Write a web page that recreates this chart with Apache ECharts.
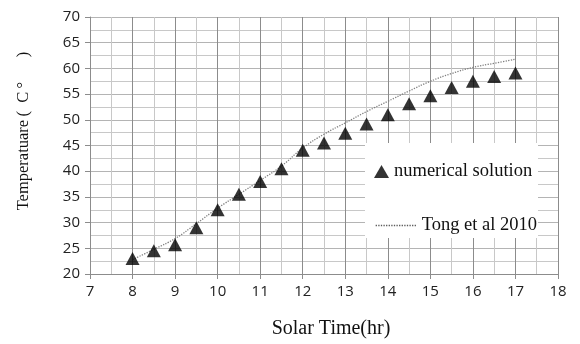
<!DOCTYPE html>
<html>
<head>
<meta charset="utf-8">
<script src="https://cdn.jsdelivr.net/npm/echarts@6/dist/echarts.min.js"></script>
<style>
html,body{margin:0;padding:0;background:#fff;}
#c{width:580px;height:344px;}
</style>
</head>
<body>
<div id="c"></div>
<script>
var solarTime = [8, 8.5, 9, 9.5, 10, 10.5, 11, 11.5, 12, 12.5, 13, 13.5, 14, 14.5, 15, 15.5, 16, 16.5, 17];
var numericalSolution = [23, 24.5, 25.7, 29, 32.5, 35.5, 38, 40.5, 44.1, 45.5, 47.4, 49.2, 51, 53.1, 54.7, 56.3, 57.5, 58.4, 59.1];
var tong2010 = [22.8, 24.8, 26.9, 29.8, 32.8, 35.5, 38.2, 41, 44.5, 47.2, 49.4, 51.6, 53.6, 55.6, 57.5, 59, 60.2, 61, 61.8];
var seriesNames = ['numerical solution', 'Tong et al 2010'];
var xTitle = 'Solar Time(hr)';
var yTitle = 'Temperatuare\u2009(\u2002C\u2009\u00B0\u2003\u2002)';

function pairs(xs, ys) { return xs.map(function (x, i) { return [x, ys[i]]; }); }

var chart = echarts.init(document.getElementById('c'), null, { renderer: 'canvas' });
chart.setOption({
  animation: false,
  backgroundColor: '#fff',
  grid: { left: 90, right: 22, top: 17, bottom: 70, containLabel: false },
  xAxis: {
    type: 'value', min: 7, max: 18, interval: 1,
    name: xTitle, nameLocation: 'middle', nameGap: 45,
    nameTextStyle: { fontFamily: 'Liberation Serif', fontSize: 20, color: '#111', padding: [0, 0, 0, 14] },
    axisLine: { show: true, lineStyle: { color: '#8c8c8c', width: 1 } },
    axisTick: { show: true, length: 5, lineStyle: { color: '#8c8c8c' } },
    axisLabel: { fontFamily: 'Open Sans', fontSize: 15, color: '#222', margin: 10 },
    splitLine: { show: true, lineStyle: { color: '#8c8c8c', width: 1 } },
    minorTick: { show: false, splitNumber: 2 },
    minorSplitLine: { show: true, lineStyle: { color: '#c8c8c8', width: 1 } }
  },
  yAxis: {
    type: 'value', min: 20, max: 70, interval: 5,
    name: yTitle, nameLocation: 'middle', nameGap: 58, nameRotate: 90,
    nameTextStyle: { fontFamily: 'Liberation Serif', fontSize: 16.5, color: '#111', padding: [0, 0, 0, 29] },
    axisLine: { show: true, lineStyle: { color: '#8c8c8c', width: 1 } },
    axisTick: { show: true, length: 5, lineStyle: { color: '#8c8c8c' } },
    axisLabel: { fontFamily: 'Open Sans', fontSize: 15, color: '#222', margin: 10 },
    splitLine: { show: true, lineStyle: { color: '#b4b4b4', width: 1 } },
    minorTick: { show: false, splitNumber: 2 },
    minorSplitLine: { show: true, lineStyle: { color: '#c8c8c8', width: 1 } }
  },
  graphic: [{
    type: 'rect', left: 365, top: 143, z: 10,
    shape: { width: 173, height: 95 },
    style: { fill: '#fff' }
  }],
  legend: [{
    data: [seriesNames[0]], left: 369, top: 157, z: 20,
    orient: 'horizontal', itemWidth: 15, itemHeight: 13, itemGap: 10,
    icon: 'triangle',
    textStyle: { fontFamily: 'Liberation Serif', fontSize: 18.5, color: '#111' }
  }, {
    data: [seriesNames[1]], left: 370, top: 211, z: 20,
    orient: 'horizontal', itemWidth: 41, itemHeight: 12, itemGap: 2,
    itemStyle: { opacity: 0 },
    lineStyle: { color: '#5a5a5a', width: 1.3, type: 'dotted', opacity: 1 },
    textStyle: { fontFamily: 'Liberation Serif', fontSize: 18.5, color: '#111' }
  }],
  series: [{
    name: seriesNames[1], type: 'line', smooth: true, symbol: 'none', z: 2,
    data: pairs(solarTime, tong2010),
    lineStyle: { color: '#808080', width: 1.3, type: 'dotted' },
    itemStyle: { color: '#6a6a6a' }
  }, {
    name: seriesNames[0], type: 'scatter', symbol: 'triangle', symbolSize: [14, 13], z: 3,
    data: pairs(solarTime, numericalSolution),
    itemStyle: { color: '#000' }
  }]
});
</script>
</body>
</html>
